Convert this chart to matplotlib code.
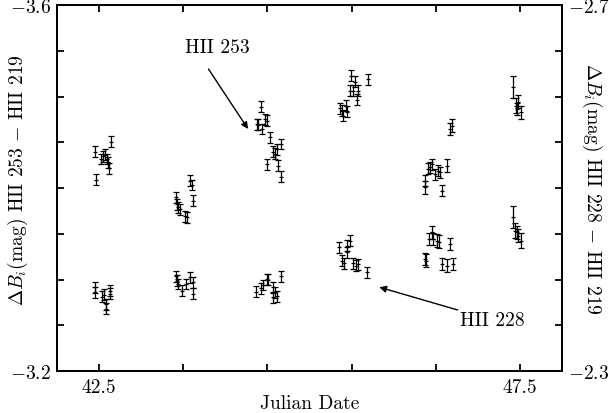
import matplotlib
matplotlib.use("Agg")
import matplotlib.pyplot as plt

plt.rcParams["font.family"] = "serif"
plt.rcParams["font.serif"] = ["cmr10", "DejaVu Serif"]
plt.rcParams["mathtext.fontset"] = "cm"
plt.rcParams["axes.formatter.use_mathtext"] = True

# HII 253 - HII 219 (left axis)
jd_253 = [42.451, 42.460, 42.642, 42.519, 42.550, 42.570, 42.590, 42.602, 42.621,
          43.580, 43.604, 43.619, 43.414, 43.422, 43.441, 43.461, 43.521, 43.541,
          44.424, 44.373, 44.392, 44.432, 44.471, 44.491, 44.531, 44.570, 44.590,
          44.610, 44.658, 44.498, 44.629, 44.658,
          45.489, 45.540, 45.691, 45.481, 45.513, 45.580, 45.561, 45.362, 45.382,
          45.401, 45.434, 45.449,
          46.669, 46.696, 46.630, 46.372, 46.372, 46.411, 46.431, 46.452, 46.491,
          46.530, 46.550, 46.570,
          47.421, 47.453, 47.469, 47.481, 47.509]
mag_253 = [-3.4397, -3.4091, -3.4506, -3.4317, -3.4346, -3.4364, -3.4317, -3.4281, -3.4215,
           -3.4080, -3.4033, -3.3861, -3.3898, -3.3825, -3.3789, -3.3770, -3.3691, -3.3680,
           -3.4889, -3.4699, -3.4689, -3.4645, -3.4754, -3.4736, -3.4554, -3.4397, -3.4372,
           -3.4426, -3.4481, -3.4262, -3.4244, -3.4124,
           -3.5227, -3.5162, -3.5191, -3.5063, -3.5063, -3.5063, -3.4965, -3.4871, -3.4845,
           -3.4790, -3.4900, -3.4834,
           -3.4645, -3.4681, -3.4244, -3.4008, -3.4080, -3.4208, -3.4226, -3.4262, -3.4153,
           -3.4189, -3.4171, -3.3971,
           -3.5101, -3.4899, -3.4863, -3.4943, -3.4827]
err_253 = [0.006] * 44 + \
          [0.007, 0.007, 0.007, 0.007, 0.006, 0.006, 0.006, 0.006, 0.006, 0.006, 0.006, 0.006] + \
          [0.012, 0.008, 0.007, 0.007, 0.007]

# HII 228 - HII 219 (right axis)
jd_228 = [42.451, 42.451, 42.531, 42.562, 42.582, 42.582, 42.630, 42.630,
          43.414, 43.429, 43.441, 43.481, 43.533, 43.580, 43.612, 43.619,
          44.364, 44.420, 44.444, 44.491, 44.510, 44.570, 44.590, 44.563, 44.617, 44.658,
          45.354, 45.449, 45.481, 45.382, 45.410, 45.520, 45.552, 45.580, 45.687, 45.442,
          46.372, 46.384, 46.423, 46.452, 46.471, 46.511, 46.542, 46.570, 46.630, 46.701, 46.669,
          47.421, 47.441, 47.461, 47.481, 47.509]
mag_228 = [-2.3915, -2.3860, -2.3812, -2.3831, -2.3732, -2.3678, -2.3878, -2.3842,
           -2.4035, -2.3987, -2.3951, -2.3878, -2.3951, -2.4024, -2.3969, -2.3842,
           -2.3867, -2.3904, -2.3940, -2.4005, -2.3998, -2.3915, -2.3860, -2.3806, -2.3816, -2.4035,
           -2.4352, -2.4369, -2.4424, -2.4205, -2.4180, -2.4180, -2.4151, -2.4169, -2.4079, -2.4297,
           -2.4224, -2.4206, -2.4443, -2.4516, -2.4443, -2.4424, -2.4413, -2.4169, -2.4151, -2.4169, -2.4388,
           -2.4680, -2.4533, -2.4516, -2.4479, -2.4424]
err_228 = [0.006] * 36 + [0.007] * 11 + [0.012, 0.008, 0.007, 0.007, 0.008]

x_ticks = [42.5, 43.5, 44.5, 45.5, 46.5, 47.5]
x_labels = ["42.5", "", "", "", "", "47.5"]

fig = plt.figure(figsize=(6.09, 4.14), dpi=100)
ax = fig.add_axes([0.0936, 0.1014, 0.8292, 0.8841])
ax2 = ax.twinx()

ebkw = dict(fmt="_", color="black", ms=3, mew=0.9, elinewidth=0.9, capsize=2, capthick=0.9)
ax.errorbar(jd_253, mag_253, yerr=err_253, **ebkw)
ax2.errorbar(jd_228, mag_228, yerr=err_228, **ebkw)

ax.set_xlim(42.0, 48.0)
ax.set_ylim(-3.2, -3.6)
ax2.set_ylim(-2.3, -2.7)

ax.set_xticks(x_ticks)
ax.set_xticklabels(x_labels)

yt = [-3.6 + 0.05 * i for i in range(9)]
ax.set_yticks(yt)
ax.set_yticklabels(["$-3.6$"] + [""] * 7 + ["$-3.2$"])
yt2 = [-2.7 + 0.05 * i for i in range(9)]
ax2.set_yticks(yt2)
ax2.set_yticklabels(["$-2.7$"] + [""] * 7 + ["$-2.3$"])

ax.tick_params(axis="both", direction="in", length=5, width=1.3, labelsize=14,
               top=True, right=False, pad=4)
ax.tick_params(axis="x", pad=5)
ax2.tick_params(axis="y", direction="in", length=5, width=1.3, labelsize=14, pad=4)
for a in (ax, ax2):
    for s in a.spines.values():
        s.set_linewidth(1.4)

ax.set_xlabel("Julian Date", fontsize=14, labelpad=-1)
ax.text(-0.077, 0.525, r"$\Delta B_i$(mag) HII 253 $-$ HII 219", transform=ax.transAxes,
        fontsize=14, rotation=90, ha="center", va="center")
ax.text(1.059, 0.5, r"$\Delta B_i$(mag) HII 228 $-$ HII 219", transform=ax.transAxes,
        fontsize=14, rotation=270, ha="center", va="center")

arrow = dict(arrowstyle="-|>", color="black", lw=1, mutation_scale=10, shrinkA=0, shrinkB=0)
ax.text(43.52, -3.554, "HII 253", fontsize=14, ha="left", va="center")
ax.annotate("", xy=(44.27, -3.4645), xytext=(43.80, -3.530), arrowprops=arrow)
ax2.text(47.17, -2.3555, "HII 228", fontsize=14, ha="center", va="center")
ax2.annotate("", xy=(45.83, -2.3916), xytext=(46.76, -2.3667), arrowprops=arrow)

fig.savefig("out.png", dpi=100)
